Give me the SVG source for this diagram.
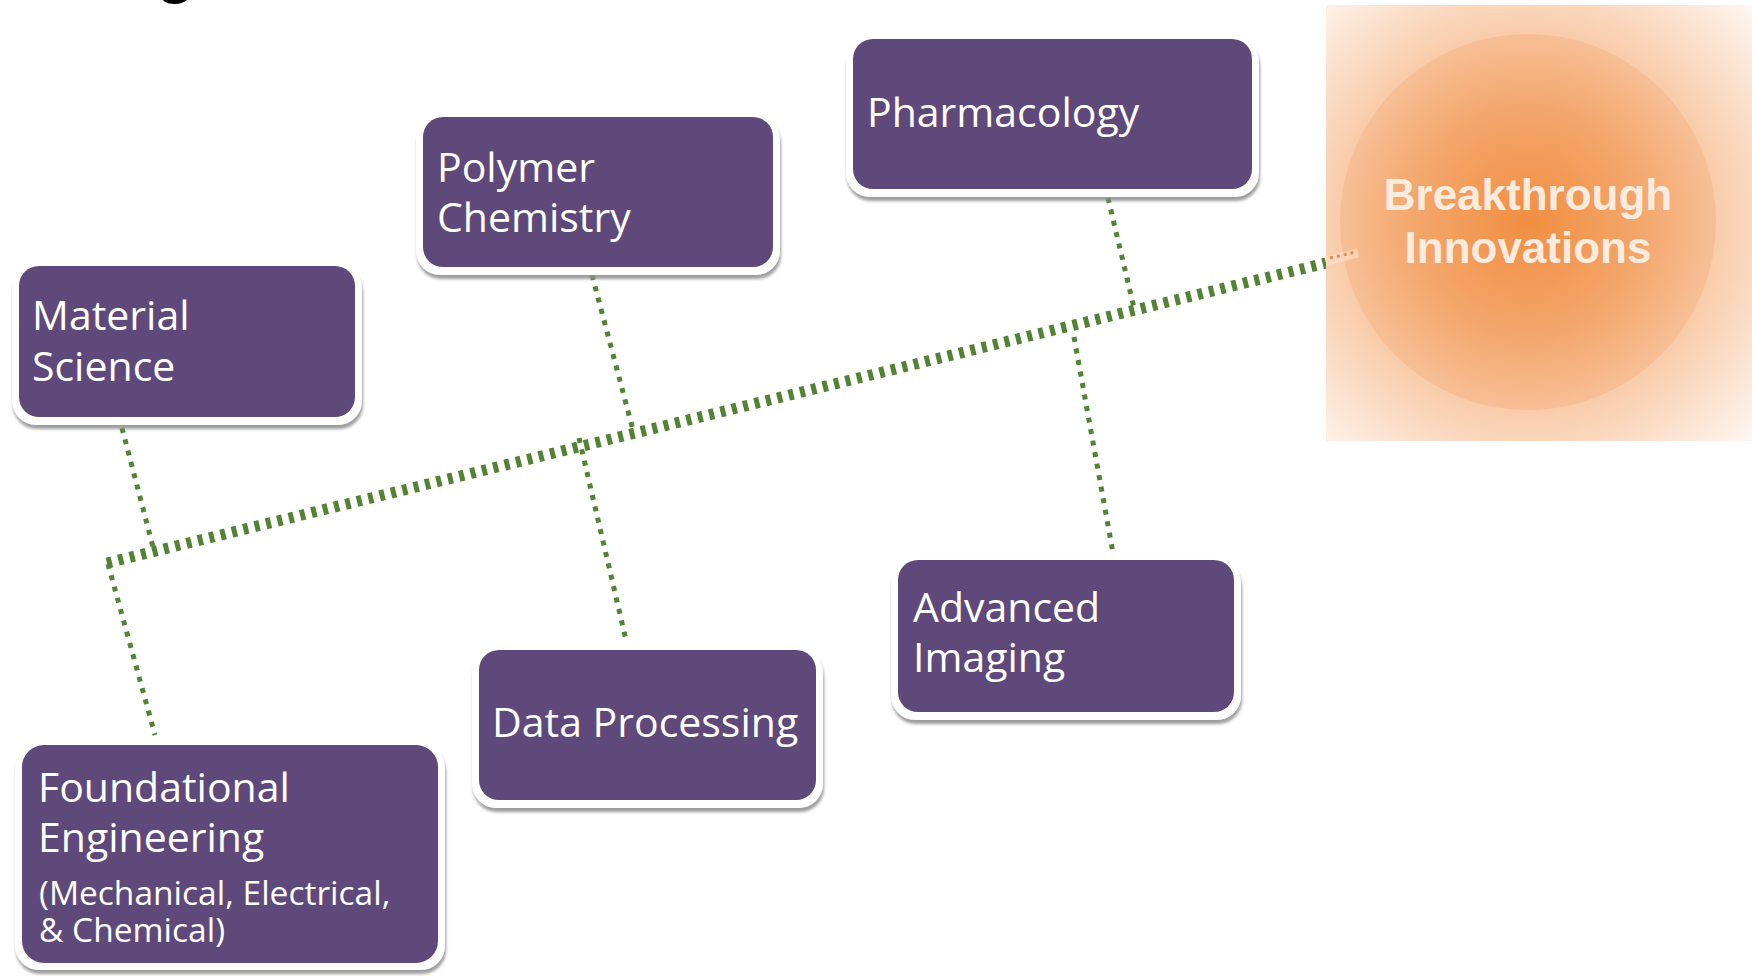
<svg xmlns="http://www.w3.org/2000/svg" width="1752" height="976" viewBox="0 0 1752 976">
  <defs>
    <filter id="shadow" x="-5%" y="-10%" width="112%" height="125%">
      <feGaussianBlur in="SourceAlpha" stdDeviation="1.8" result="b"/>
      <feOffset in="b" dx="1" dy="4" result="o"/>
      <feFlood flood-color="#8c8c8c" flood-opacity="0.85"/>
      <feComposite in2="o" operator="in" result="s"/>
      <feMerge><feMergeNode in="s"/><feMergeNode in="SourceGraphic"/></feMerge>
    </filter>
    <radialGradient id="glowBg" gradientUnits="userSpaceOnUse" cx="1528" cy="222" r="310">
      <stop offset="0" stop-color="#f3a062"/>
      <stop offset="0.55" stop-color="#f8c6a0"/>
      <stop offset="0.8" stop-color="#fbe0cc"/>
      <stop offset="1" stop-color="#fef6f0"/>
    </radialGradient>
    <radialGradient id="glowCircle" gradientUnits="userSpaceOnUse" cx="1528" cy="222" r="188">
      <stop offset="0" stop-color="#f08b3c"/>
      <stop offset="0.6" stop-color="#f3a366"/>
      <stop offset="1" stop-color="#f7bd93"/>
    </radialGradient>
    <style>
      .frame { fill: #ffffff; filter: url(#shadow); }
      .box { fill: #5f497a; }
      .lbl { font-family: "Open Sans", "Noto Sans", "Liberation Sans", sans-serif; font-size: 41px; fill: #ffffff; }
      .sub { font-size: 33.5px; }
      .main { fill: none; stroke: #548235; stroke-width: 11; stroke-dasharray: 5 6.7; }
      .branch { fill: none; stroke: #548235; stroke-width: 5; stroke-dasharray: 5 6.7; }
      .glowtxt { font-family: "Liberation Sans", Arial, sans-serif; font-weight: bold; font-size: 44px; fill: #fdf1e8; fill-opacity: 0.95; text-anchor: middle; }
    </style>
  </defs>
  <rect x="0" y="0" width="1752" height="976" fill="#ffffff"/>

  <text x="156" y="-9" font-family="Liberation Sans, Arial, sans-serif" font-weight="bold" font-size="64" fill="#000000">g</text>

  <g id="connectors">
    <line class="main" x1="107" y1="563" x2="1326" y2="263"/>
    <line class="branch" x1="122" y1="428" x2="153" y2="547"/>
    <line class="branch" x1="108" y1="564" x2="155" y2="735"/>
    <line class="branch" x1="592" y1="275" x2="633" y2="430"/>
    <line class="branch" x1="579" y1="438" x2="626" y2="640"/>
    <line class="branch" x1="1108" y1="198" x2="1135" y2="312"/>
    <line class="branch" x1="1074" y1="337" x2="1113" y2="553"/>
  </g>

  <g id="node-breakthrough">
    <rect x="1326" y="5" width="426" height="436" fill="url(#glowBg)"/>
    <circle cx="1528" cy="222" r="188" fill="url(#glowCircle)" opacity="0.85"/>
    <line x1="1326" y1="261" x2="1358" y2="253" stroke="#fbe3d2" stroke-width="9" opacity="0.6"/>
    <line x1="1330" y1="258" x2="1356" y2="252" stroke="#ea8e4f" stroke-width="3" stroke-dasharray="3 4"/>
    <text class="glowtxt" x="1528" y="210">Breakthrough</text>
    <text class="glowtxt" x="1528" y="263">Innovations</text>
  </g>

  <g id="node-material">
    <rect class="frame" x="12" y="265" width="350" height="160" rx="24"/>
    <rect class="box" x="19" y="266" width="336" height="151" rx="20"/>
    <text class="lbl" x="32" y="330">Material</text>
    <text class="lbl" x="32" y="381">Science</text>
  </g>

  <g id="node-polymer">
    <rect class="frame" x="416" y="116" width="364" height="159" rx="24"/>
    <rect class="box" x="423" y="117" width="350" height="150" rx="20"/>
    <text class="lbl" x="437" y="182">Polymer</text>
    <text class="lbl" x="437" y="232">Chemistry</text>
  </g>

  <g id="node-pharmacology">
    <rect class="frame" x="846" y="38" width="413" height="159" rx="24"/>
    <rect class="box" x="853" y="39" width="399" height="150" rx="20"/>
    <text class="lbl" x="867" y="127">Pharmacology</text>
  </g>

  <g id="node-foundational">
    <rect class="frame" x="15" y="744" width="430" height="226" rx="24"/>
    <rect class="box" x="22" y="745" width="416" height="218" rx="22"/>
    <text class="lbl" x="38" y="802">Foundational</text>
    <text class="lbl" x="38" y="852">Engineering</text>
    <text class="lbl sub" x="39" y="905">(Mechanical, Electrical,</text>
    <text class="lbl sub" x="39" y="942">&amp; Chemical)</text>
  </g>

  <g id="node-data">
    <rect class="frame" x="472" y="649" width="351" height="159" rx="24"/>
    <rect class="box" x="479" y="650" width="337" height="150" rx="20"/>
    <text class="lbl" x="492" y="737">Data Processing</text>
  </g>

  <g id="node-imaging">
    <rect class="frame" x="891" y="559" width="350" height="161" rx="24"/>
    <rect class="box" x="898" y="560" width="336" height="152" rx="20"/>
    <text class="lbl" x="913" y="622">Advanced</text>
    <text class="lbl" x="913" y="672">Imaging</text>
  </g>
</svg>
